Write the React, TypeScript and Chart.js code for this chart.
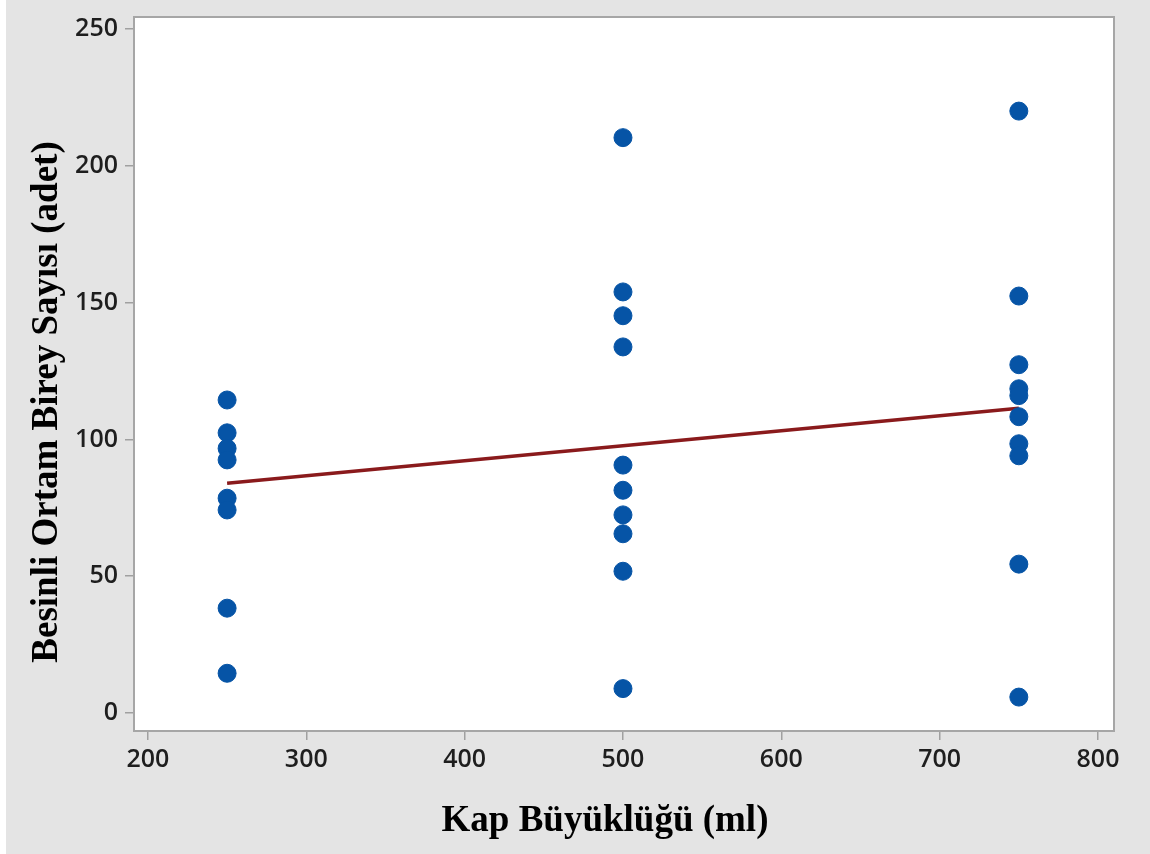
import React, { useEffect, useRef } from "react";
import { Chart, registerables } from "chart.js";

Chart.register(...registerables);

// Container sizes (ml)
const containerSizes = [250, 500, 750];
// Mean individual counts, per container size
const counts250 = [114.4, 102.4, 96.7, 92.5, 78.5, 74.2, 38.3, 14.5];
const counts500 = [210.3, 153.9, 145.2, 133.8, 90.6, 81.4, 72.4, 65.5, 51.8, 8.9];
const counts750 = [220.0, 152.4, 127.3, 118.5, 116.0, 108.3, 98.4, 94.0, 54.4, 5.8];
// Fitted regression line endpoints
const fitX = [250, 750];
const fitY = [84.0, 111.4];
// Axis ticks
const xTicks = [200, 300, 400, 500, 600, 700, 800];
const yTicks = [0, 50, 100, 150, 200, 250];

const xTitle = "Kap Büyüklüğü (ml)";
const yTitle = "Besinli Ortam Birey Sayısı (adet)";
const titleFont = "bold 37px 'Liberation Serif'";

const framePlugin = {
  id: "frameBg",
  beforeDraw(chart: any) {
    const { ctx, chartArea } = chart;
    const { left, top, right, bottom } = chartArea;
    ctx.save();
    ctx.fillStyle = "#ffffff";
    ctx.fillRect(left, top, right - left, bottom - top);
    ctx.restore();
  },
  beforeDatasetsDraw(chart: any) {
    const { ctx, chartArea } = chart;
    const { left, top, right, bottom } = chartArea;
    ctx.save();
    ctx.strokeStyle = "#a6a6a6";
    ctx.lineWidth = 2;
    ctx.strokeRect(left, top, right - left, bottom - top);
    ctx.restore();
  },
  afterDraw(chart: any) {
    // Axis titles, placed as in the original figure
    const { ctx, chartArea } = chart;
    const { left, right, top, bottom } = chartArea;
    ctx.save();
    ctx.font = titleFont;
    ctx.fillStyle = "#000000";
    ctx.textAlign = "center";
    ctx.textBaseline = "middle";
    const xc = (left + right) / 2 - 19;
    ctx.fillText(xTitle, xc, bottom + 90);
    ctx.translate(left - 87, (top + bottom) / 2 + 28);
    ctx.rotate(-Math.PI / 2);
    ctx.fillText(yTitle, 0, 0);
    ctx.restore();
  },
};

export default function App() {
  const canvasRef = useRef<HTMLCanvasElement | null>(null);

  useEffect(() => {
    const canvas = canvasRef.current;
    if (!canvas) return;
    const groups = [counts250, counts500, counts750];
    const points: { x: number; y: number }[] = [];
    groups.forEach((vals, i) => {
      vals.forEach((v) => points.push({ x: containerSizes[i], y: v }));
    });
    const fitPoints = fitX.map((x, i) => ({ x, y: fitY[i] }));

    const tickFont = { family: "'Open Sans'", size: 25, weight: "600" as any };

    const chart = new Chart(canvas, {
      type: "scatter",
      data: {
        datasets: [
          {
            label: "Gözlem",
            data: points,
            backgroundColor: "#0654A6",
            borderColor: "#0654A6",
            borderWidth: 1,
            pointRadius: 9,
            pointHoverRadius: 9,
          },
          {
            label: "Regresyon",
            data: fitPoints,
            showLine: true,
            borderColor: "#8A1A1C",
            backgroundColor: "#8A1A1C",
            borderWidth: 3.5,
            pointRadius: 0,
            pointHoverRadius: 0,
          } as any,
        ],
      },
      options: {
        responsive: false,
        animation: false,
        devicePixelRatio: 1,
        layout: { padding: { top: 17, right: 36, left: 0, bottom: 0 } },
        plugins: {
          legend: { display: false },
          tooltip: { enabled: false },
        },
        scales: {
          x: {
            type: "linear",
            min: 191.2,
            max: 810.1,
            afterBuildTicks: (axis: any) => {
              axis.ticks = xTicks.map((v) => ({ value: v }));
            },
            afterFit: (scale: any) => {
              scale.height = 123;
              scale.paddingLeft = 0;
              scale.paddingRight = 0;
            },
            border: { display: false },
            grid: {
              drawOnChartArea: false,
              drawTicks: true,
              tickLength: 9,
              color: "#a0a0a0",
              lineWidth: 1.5,
            },
            ticks: {
              padding: 5,
              color: "#1e1e1e",
              font: tickFont,
            },
            title: { display: false },
          },
          y: {
            type: "linear",
            min: -6.6,
            max: 254.4,
            afterBuildTicks: (axis: any) => {
              axis.ticks = yTicks.map((v) => ({ value: v }));
            },
            afterFit: (scale: any) => {
              scale.width = 134;
              scale.paddingTop = 0;
              scale.paddingBottom = 0;
            },
            border: { display: false },
            grid: {
              drawOnChartArea: false,
              drawTicks: true,
              tickLength: 9,
              color: "#a0a0a0",
              lineWidth: 1.5,
            },
            ticks: {
              padding: 7,
              color: "#1e1e1e",
              font: tickFont,
            },
            title: { display: false },
          },
        },
      },
      plugins: [framePlugin],
    });
    return () => chart.destroy();
  }, []);

  return (
    <div
      style={{
        position: "fixed",
        left: 0,
        top: 0,
        width: 1150,
        height: 854,
        background: "linear-gradient(to right, #ffffff 6px, #e4e4e4 6px)",
      }}
    >
      <canvas
        ref={canvasRef}
        width={1150}
        height={854}
        style={{ display: "block", width: 1150, height: 854 }}
      />
    </div>
  );
}
